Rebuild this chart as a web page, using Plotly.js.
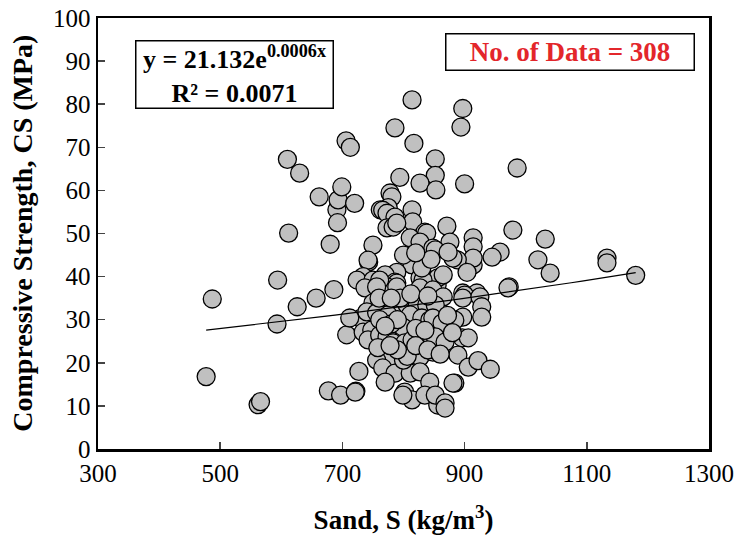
<!DOCTYPE html>
<html>
<head>
<meta charset="utf-8">
<script src="https://cdn.plot.ly/plotly-3.0.1.min.js"></script>
<style>html,body{margin:0;padding:0;background:#fff;}#chart{width:734px;height:537px;}</style>
</head>
<body>
<div id="chart"></div>
<script>
// Sand content (kg/m3)
const sand = [
477,487,562,566,593,594,610,612,626,630,657,662,677,680,686,691,692,693,699,697,706,713,707,720,722,727,730,712,
814,897,894,786,817,852,986,852,794,827,853,900,778,781,775,762,766,773,786,814,815,871,979,773,783,789,835,838,
811,827,848,914,1032,876,852,958,945,914,914,914,1020,1040,1133,1133,1180,973,888,904,881,873,750,743,742,814,
789,770,734,724,750,786,827,847,855,856,865,832,789,773,761,737,756,789,827,848,897,920,900,750,766,783,806,822,
838,740,756,775,811,830,843,734,748,742,761,773,783,799,802,814,832,847,855,766,778,756,827,848,766,786,811,827,
843,770,802,814,799,721,835,856,971,897,925,928,865,852,897,928,848,863,852,868,896,906,889,906,922,942,884,881,
852,868,868,761,780,800,806,790,884,
790,820,835,770,758,778,820,840,860,795,812,840,872,880,760,780,830,845,800,820
];
// Compressive strength (MPa)
const strength = [
16.8,34.8,10.3,11,29,39.2,67.2,50.1,33,64,35,58.5,13.5,47.5,37,55.5,52.5,57.8,60.8,12.5,71.5,70,26.5,57,13.4,18,30.3,30.4,
81,79,74.7,74.5,70.9,67.3,65.2,63.5,63,61.7,60.1,61.5,59.4,58.5,56,55.5,55.4,54.7,53.8,55.5,52.7,51.7,50.8,51.3,51.5,52.4,50.3,50.1,
49,48,46.6,49,48.7,48,46.2,45.7,44.5,46.9,42.7,44.3,43.9,40.8,44.3,43.2,40.3,37.6,43.9,41,44.3,45.7,47.3,43.4,43.8,42.7,
41,40.4,40,39.2,39.2,38.7,39.7,39.2,38,39.7,40.4,39.2,38.5,37.6,39.2,37.4,37.6,37.6,37.4,36.9,36.2,36.2,35.7,33.9,33.4,32.7,33.4,33,
33.4,31.8,31.6,31.1,31.1,30.4,29.9,27.1,27.6,25.3,26.4,26,24.6,28.3,24.6,25.3,25.8,25.8,26.4,22.3,21.1,20.6,21.3,22.5,18.8,17.6,17.6,17.9,
15.5,15.5,13.2,11.4,12.5,13.2,12.5,10.2,37.4,35,35.3,33,35.3,33.4,30.6,30.6,30.4,29.2,26,24.8,25.8,25.8,21.8,19,20.5,18.5,15.3,15.3,
12.5,10.7,9.5,30,29,20.6,21.5,23,29.9,
30,28,27.5,28.5,23.5,24,24,23,22,35,36,35.5,31,27,35,35,42,44,45,45.5
];
// Exponential trend y = a * exp(b x)
const trendA = 21.132;
const trendB = 0.00056;
const trendRange = [477, 1180];

const tx = [], ty = [];
for (let i = 0; i <= 40; i++) {
  const x = trendRange[0] + (trendRange[1] - trendRange[0]) * i / 40;
  tx.push(x); ty.push(trendA * Math.exp(trendB * x));
}

const font = "Liberation Serif, Times New Roman, serif";
const data = [
  {x: sand, y: strength, type: 'scatter', mode: 'markers',
   marker: {size: 18, color: '#c0c0c0', line: {color: '#000', width: 1.3}}, hoverinfo: 'x+y'},
  {x: tx, y: ty, type: 'scatter', mode: 'lines', line: {color: '#000', width: 1.2}, hoverinfo: 'skip'}
];
const layout = {
  width: 734, height: 537,
  margin: {l: 98, r: 25, t: 18, b: 88},
  paper_bgcolor: '#fff', plot_bgcolor: '#fff',
  showlegend: false,
  font: {family: font, color: '#000', size: 25},
  xaxis: {range: [300, 1300], tickvals: [300,500,700,900,1100,1300], ticks: 'inside', ticklen: 7, tickwidth: 1.5,
          showline: true, mirror: true, linewidth: 2.5, linecolor: '#000', showgrid: false, zeroline: false,
          tickfont: {family: font, size: 25},
          title: {text: '<b>Sand, S (kg/m<sup>3</sup>)</b>', font: {family: font, size: 27}, standoff: 25}},
  yaxis: {range: [0, 100], dtick: 10, ticks: 'inside', ticklen: 7, tickwidth: 1.5,
          showline: true, mirror: true, linewidth: 2.5, linecolor: '#000', showgrid: false, zeroline: false,
          tickfont: {family: font, size: 25}},
  annotations: [
    {xref: 'paper', yref: 'paper', x: -0.124, y: 0.5, xanchor: 'center', yanchor: 'middle', showarrow: false,
     textangle: -90, text: '<b>Compressive Strength, CS (MPa)</b>',
     font: {family: font, size: 28, color: '#000'}},
    {xref: 'paper', yref: 'paper', x: 0.224, y: 0.870, xanchor: 'center', yanchor: 'middle', showarrow: false,
     text: '<b>y = 21.132e<sup>0.0006x</sup><br>R² = 0.0071</b>',
     font: {family: font, size: 26, color: '#000'}, bgcolor: '#fff',
     bordercolor: '#000', borderwidth: 1.5, borderpad: 2, width: 192, height: 62},
    {xref: 'paper', yref: 'paper', x: 0.772, y: 0.920, xanchor: 'center', yanchor: 'middle', showarrow: false,
     text: '<b>No. of Data = 308</b>',
     font: {family: font, size: 27, color: '#e3262b'}, bgcolor: '#fff',
     bordercolor: '#000', borderwidth: 1.5, borderpad: 2, width: 243, height: 31}
  ]
};
Plotly.newPlot('chart', data, layout, {displayModeBar: false, staticPlot: true});
</script>
</body>
</html>
